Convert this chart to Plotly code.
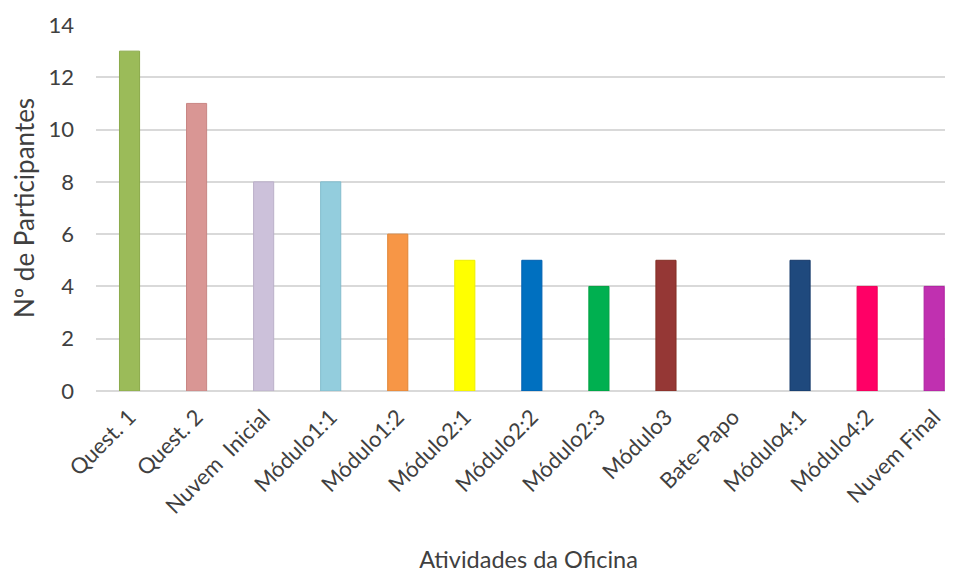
import plotly.graph_objects as go

categories = ["Quest. 1", "Quest. 2", "Nuvem  Inicial", "Módulo1:1", "Módulo1:2", "Módulo2:1",
              "Módulo2:2", "Módulo2:3", "Módulo3", "Bate-Papo", "Módulo4:1", "Módulo4:2", "Nuvem Final"]
values = [13, 11, 8, 8, 6, 5, 5, 4, 5, 0, 5, 4, 4]
colors = ["#9BBB59", "#D99694", "#CCC1DA", "#93CDDD", "#F79646", "#FFFF00", "#0070C0",
          "#00B050", "#953735", "#FFFFFF", "#1F497D", "#FF0066", "#C030B0"]
borders = ["#8AAA4A", "#C98684", "#BBB0C9", "#83BDCD", "#E08535", "#EEEE00", "#0060B0",
           "#00A040", "#843025", "#FFFFFF", "#163A6A", "#EE0055", "#B020A0"]
border_widths = [0 if v == 0 else 1 for v in values]

fig = go.Figure(go.Bar(
    x=list(range(len(categories))), y=values,
    marker=dict(color=colors, line=dict(color=borders, width=border_widths)),
    width=0.3,
))

font_family = "Lato, 'Open Sans', sans-serif"
fig.update_layout(
    width=953, height=571,
    margin=dict(l=88, r=0, t=17, b=188, autoexpand=False),
    plot_bgcolor="white", paper_bgcolor="white",
    showlegend=False,
    font=dict(family=font_family, color="#595959"),
    xaxis=dict(
        tickmode="array", tickvals=list(range(len(categories))), ticktext=categories,
        tickangle=-45, tickfont=dict(size=22, color="#404040"),
        range=[-0.5, 12.40], showgrid=False, showline=False, ticks="",
        ticklabelstandoff=8,
        title=dict(text="Atividades da Oficina", font=dict(size=23.5, color="#404040"), standoff=33),
    ),
    yaxis=dict(
        range=[0, 14], dtick=2, tickfont=dict(size=22, color="#404040"),
        gridcolor="#D9D9D9", gridwidth=2, zeroline=True, zerolinecolor="#D9D9D9", zerolinewidth=2,
        ticks="", ticklabelstandoff=21,
        title=dict(text="Nº de Participantes", font=dict(size=26, color="#404040"), standoff=15),
    ),
)
fig.write_html("out.html")
